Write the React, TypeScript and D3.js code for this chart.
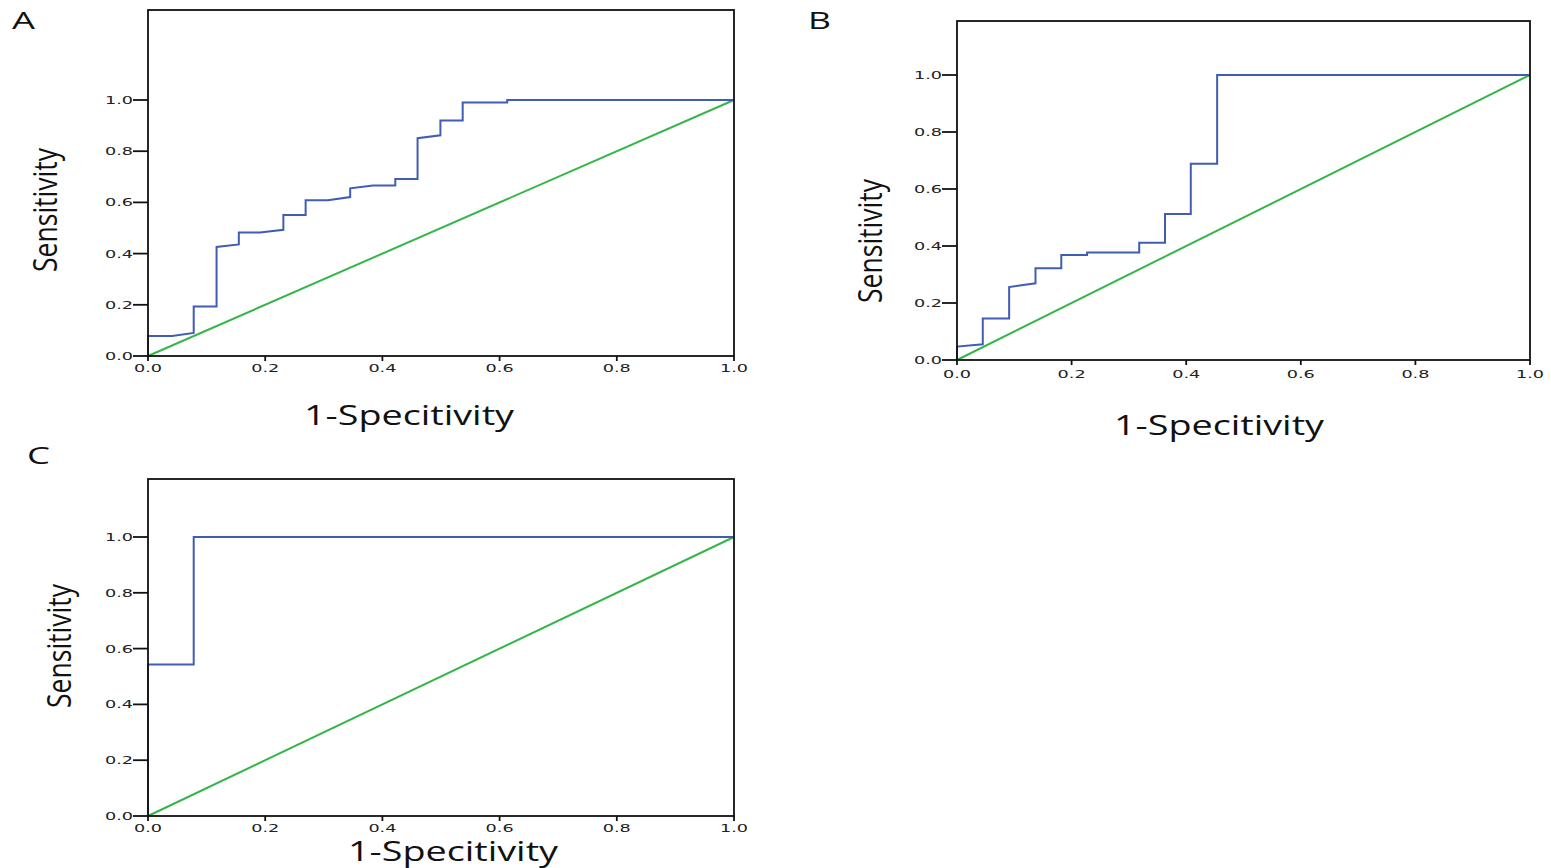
import React from "react";
import * as d3 from "d3";

// Axis ticks shared by all three ROC panels
const xTicks = [0, 0.2, 0.4, 0.6, 0.8, 1.0];
const yTicks = [0, 0.2, 0.4, 0.6, 0.8, 1.0];
const tickLabels = ["0.0", "0.2", "0.4", "0.6", "0.8", "1.0"];

const xTitle = "1-Specitivity";
const yTitle = "Sensitivity";

// Panel A: ROC curve vertices (1-specificity, sensitivity)
const fprA = [0, 0, 0.041, 0.078, 0.078, 0.117, 0.117, 0.155, 0.155, 0.191, 0.231, 0.231, 0.269, 0.269, 0.307, 0.345, 0.345, 0.384, 0.422, 0.422, 0.46, 0.46, 0.499, 0.499, 0.537, 0.537, 0.613, 0.613, 1.0];
const tprA = [0, 0.078, 0.078, 0.09, 0.193, 0.193, 0.426, 0.436, 0.482, 0.482, 0.493, 0.551, 0.551, 0.608, 0.608, 0.621, 0.655, 0.666, 0.666, 0.691, 0.691, 0.851, 0.862, 0.92, 0.92, 0.99, 0.99, 1.0, 1.0];

// Panel B
const fprB = [0, 0, 0.045, 0.045, 0.091, 0.091, 0.137, 0.137, 0.182, 0.182, 0.227, 0.227, 0.318, 0.318, 0.363, 0.363, 0.408, 0.408, 0.454, 0.454, 1.0];
const tprB = [0, 0.047, 0.055, 0.146, 0.146, 0.256, 0.269, 0.322, 0.322, 0.368, 0.368, 0.377, 0.377, 0.411, 0.411, 0.512, 0.512, 0.689, 0.689, 1.0, 1.0];

// Panel C
const fprC = [0, 0, 0.078, 0.078, 1.0];
const tprC = [0, 0.543, 0.543, 1.0, 1.0];

// Reference (chance) diagonal
const chanceFpr = [0, 1];
const chanceTpr = [0, 1];

const CURVE = "#3f5db5";
const CHANCE = "#36b54a";
const INK = "#111";

type Layout = {
  left: number;
  right: number;
  bottom: number;
  yOne: number;
  top: number;
  tickLabelDy: number;
  titleCx: number;
  titleBase: number;
  yTitleBase: number;
  yTitleCy: number;
  letterX: number;
  letterBase: number;
};

function RocPanel({ fpr, tpr, letter, L }: { fpr: number[]; tpr: number[]; letter: string; L: Layout }) {
  const x = d3.scaleLinear().domain([0, 1]).range([L.left, L.right]);
  const y = d3.scaleLinear().domain([0, 1]).range([L.bottom, L.yOne]);
  const line = d3
    .line<[number, number]>()
    .x((d) => x(d[0]))
    .y((d) => y(d[1]));
  const curve = fpr.map((f, i) => [f, tpr[i]] as [number, number]);
  const chance = chanceFpr.map((f, i) => [f, chanceTpr[i]] as [number, number]);

  const tickFont = {
    fontFamily: "DejaVu Sans, Verdana, sans-serif",
    fontSize: 10,
    fill: "#222",
  };

  return (
    <g>
      <path d={line(chance) ?? ""} fill="none" stroke={CHANCE} strokeWidth={2} />
      <path d={line(curve) ?? ""} fill="none" stroke={CURVE} strokeWidth={2} strokeLinejoin="miter" />

      {/* frame */}
      <rect
        x={L.left}
        y={L.top}
        width={L.right - L.left}
        height={L.bottom - L.top}
        fill="none"
        stroke={INK}
        strokeWidth={1.8}
      />

      {/* y axis ticks */}
      {yTicks.map((t, i) => (
        <g key={"y" + i}>
          <line x1={L.left - 15} x2={L.left} y1={y(t)} y2={y(t)} stroke={INK} strokeWidth={1.8} />
          <text
            x={L.left - 15}
            y={y(t) + 4}
            textAnchor="end"
            {...tickFont}
            textLength={28}
            lengthAdjust="spacingAndGlyphs"
          >
            {tickLabels[i]}
          </text>
        </g>
      ))}

      {/* x axis ticks */}
      {xTicks.map((t, i) => (
        <g key={"x" + i}>
          <line x1={x(t)} x2={x(t)} y1={L.bottom} y2={L.bottom + 5} stroke={INK} strokeWidth={1.8} />
          <text
            x={x(t)}
            y={L.bottom + L.tickLabelDy}
            textAnchor="middle"
            {...tickFont}
            textLength={28}
            lengthAdjust="spacingAndGlyphs"
          >
            {tickLabels[i]}
          </text>
        </g>
      ))}

      {/* axis titles */}
      <text
        x={L.titleCx}
        y={L.titleBase}
        textAnchor="middle"
        fontFamily="Open Sans, sans-serif"
        fontSize={28}
        fill="#111"
        textLength={210}
        lengthAdjust="spacingAndGlyphs"
      >
        {xTitle}
      </text>
      <text
        transform={`translate(${L.yTitleBase},${L.yTitleCy}) rotate(-90)`}
        textAnchor="middle"
        fontFamily="Open Sans, sans-serif"
        fontSize={33}
        fill="#111"
        textLength={124}
        lengthAdjust="spacingAndGlyphs"
      >
        {yTitle}
      </text>

      {/* panel letter */}
      <text
        x={L.letterX}
        y={L.letterBase}
        fontFamily="Open Sans, sans-serif"
        fontSize={23.5}
        fill="#111"
        textLength={23}
        lengthAdjust="spacingAndGlyphs"
      >
        {letter}
      </text>
    </g>
  );
}

const layoutA: Layout = {
  left: 148, right: 734, bottom: 356, yOne: 100, top: 10, tickLabelDy: 16,
  titleCx: 409, titleBase: 425, yTitleBase: 57, yTitleCy: 210, letterX: 12, letterBase: 29,
};
const layoutB: Layout = {
  left: 957, right: 1530, bottom: 360, yOne: 75, top: 21, tickLabelDy: 18,
  titleCx: 1219, titleBase: 435, yTitleBase: 882, yTitleCy: 241, letterX: 808, letterBase: 29,
};
const layoutC: Layout = {
  left: 148, right: 734, bottom: 816, yOne: 537, top: 479, tickLabelDy: 16,
  titleCx: 453, titleBase: 861, yTitleBase: 71, yTitleCy: 646, letterX: 27, letterBase: 464,
};

export default function App() {
  return (
    <svg
      width={1551}
      height={868}
      style={{ position: "absolute", left: 0, top: 0, display: "block", background: "#fff" }}
    >
      <RocPanel fpr={fprA} tpr={tprA} letter="A" L={layoutA} />
      <RocPanel fpr={fprB} tpr={tprB} letter="B" L={layoutB} />
      <RocPanel fpr={fprC} tpr={tprC} letter="C" L={layoutC} />
    </svg>
  );
}
